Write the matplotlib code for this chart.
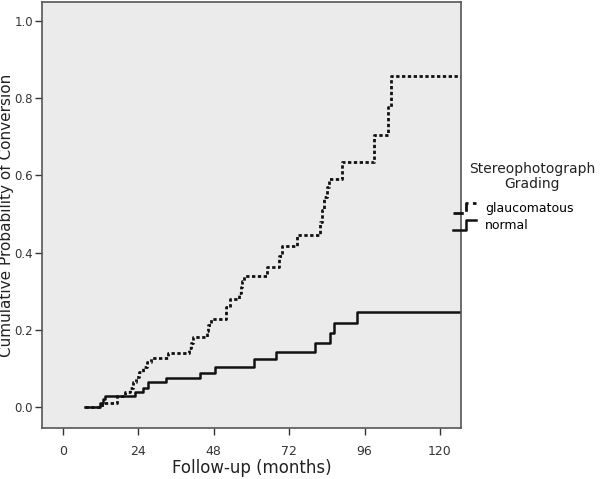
import matplotlib
matplotlib.use("Agg")
import matplotlib.pyplot as plt
from matplotlib.legend_handler import HandlerBase
from matplotlib.lines import Line2D

# follow-up time (months) at each step, and cumulative probability after it
normal_t = [7, 11.8, 12.6, 13.4, 22.9, 25.5, 27, 32.8, 43.6, 48.5, 60.8, 67.8,
            80.3, 85, 86.3, 93.5, 127]
normal_p = [0, 0.01, 0.02, 0.029, 0.038, 0.05, 0.063, 0.075, 0.088, 0.103, 0.123,
            0.143, 0.166, 0.192, 0.217, 0.247, 0.247]

glauc_t = [7, 12.3, 17.1, 19.7, 21.3, 22.3, 23.3, 24.3, 25.5, 26.6, 28, 33.5,
           40, 40.8, 41.5, 45.7, 46.3, 47, 51.8, 53, 56, 56.6, 57.1, 57.6, 64.9,
           68.6, 69.6, 74.4, 81.8, 82.5, 83.2, 84, 84.7, 88.7, 99.1, 103.6, 104.4, 127]
glauc_p = [0, 0.011, 0.029, 0.038, 0.05, 0.063, 0.076, 0.089, 0.102, 0.115, 0.127,
           0.14, 0.152, 0.166, 0.182, 0.196, 0.211, 0.227, 0.258, 0.279, 0.295,
           0.31, 0.325, 0.34, 0.362, 0.39, 0.417, 0.445, 0.48, 0.51, 0.545, 0.57,
           0.591, 0.636, 0.704, 0.777, 0.858, 0.858]

xticks = [0, 24, 48, 72, 96, 120]
yticks = [0.0, 0.2, 0.4, 0.6, 0.8, 1.0]


class StepHandler(HandlerBase):
    # small stair-shaped legend icon like SPSS draws
    def create_artists(self, legend, orig_handle, xdescent, ydescent,
                       width, height, fontsize, trans):
        w = width * 0.8
        xs = [0, w * 0.55, w * 0.55, w]
        ys = [-height * 0.1, -height * 0.1, height * 1.0, height * 1.0]
        line = Line2D(xs, ys, color=orig_handle.get_color(),
                      linestyle=orig_handle.get_linestyle(),
                      linewidth=orig_handle.get_linewidth())
        line.set_transform(trans)
        return [line]


fig = plt.figure(figsize=(6.0, 4.79), dpi=100)
ax = fig.add_axes([0.07, 0.1065, 0.6983, 0.8893])
ax.set_facecolor("#ebebeb")

l1, = ax.step(glauc_t, glauc_p, where="post", color="#111111",
              linestyle=(0, (1.2, 0.9)), linewidth=2.0, label="glaucomatous")
l2, = ax.step(normal_t, normal_p, where="post", color="#111111",
              linewidth=1.8, label="normal")

ax.set_xlim(-6.7, 126.7)
ax.set_ylim(-0.055, 1.05)
ax.set_xticks(xticks)
ax.set_xticklabels([str(t) for t in xticks])
ax.set_yticks(yticks)
ax.set_yticklabels(["%.1f" % v for v in yticks])
ax.tick_params(direction="out", length=5, width=1, color="#333333",
               labelsize=8.5, labelcolor="#333333", pad=1.5)
ax.tick_params(axis="x", labelsize=9, pad=7)
for s in ax.spines.values():
    s.set_color("#555555")
    s.set_linewidth(1.2)

ax.set_xlabel("Follow-up (months)", fontsize=12, color="#222222",
              va="center")
ax.xaxis.set_label_coords(0.5, -0.093)
ax.set_ylabel("Cumulative Probability of Conversion", fontsize=11,
              color="#222222", va="center")
ax.yaxis.set_label_coords(-0.084, 0.5)

fig.text(0.887, 0.632, "Stereophotograph\nGrading", ha="center", va="center",
         fontsize=10, color="#222222", linespacing=1.1)
leg = fig.legend(handles=[l1, l2], loc="upper left",
                 bbox_to_anchor=(0.755, 0.578), frameon=False,
                 borderpad=0, borderaxespad=0, fontsize=9,
                 handlelength=2.3, handletextpad=0.25,
                 labelspacing=0.3, handler_map={Line2D: StepHandler()})

fig.savefig("out.png", dpi=100)
